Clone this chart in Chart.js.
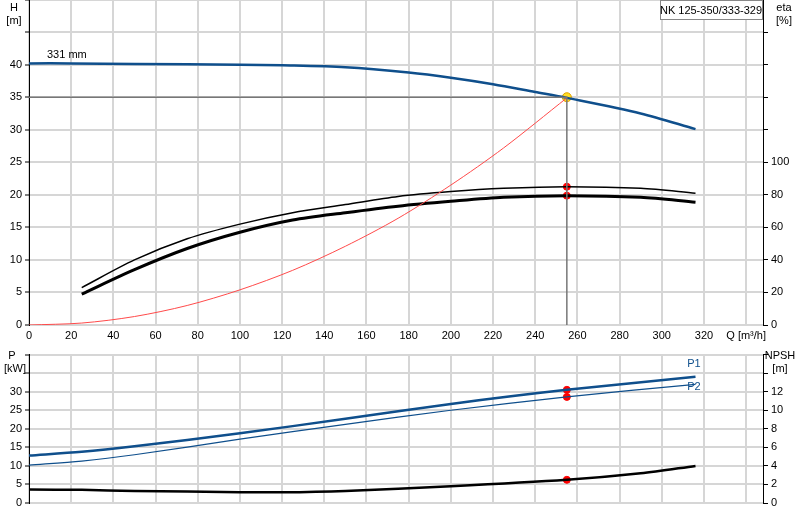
<!DOCTYPE html>
<html><head><meta charset="utf-8">
<script src="https://cdn.jsdelivr.net/npm/chart.js@4"></script>
<style>body{margin:0;background:#fff;width:800px;height:520px;overflow:hidden}
canvas{position:absolute;left:0}</style></head>
<body>
<div style="position:absolute;left:0;top:-10px;width:800px;height:355px"><canvas id="c1"></canvas></div>
<div style="position:absolute;left:0;top:345px;width:800px;height:175px"><canvas id="c2"></canvas></div>
<script>
const headQ=[0,20,50,100,120,150,180,200,220,240,255,290,316];
const headH=[40.2,40.2,40.1,40.0,39.9,39.6,38.8,38.0,37.0,35.8,34.9,32.5,30.1];
const etaQ=[25,50,75,100,125,150,175,200,225,255,290,316];
const etaUpper=[23,40,53,62,69,74,79,82,84,85,84,81];
const etaLower=[19,34,47,57,64.5,69,73,76,78.5,79.5,78.5,75.5];
const sysQ=[0,25,50,75,100,125,150,175,200,225,255];
const sysH=[0,0.3,1.3,3.0,5.4,8.4,12.1,16.4,21.5,27.2,34.9];
const dutyQ=255, dutyH=35, dutyEtaU=85, dutyEtaL=79.5;
const pQ=[0,25,50,100,150,200,255,316];
const p1=[12.8,13.8,15.3,18.8,22.7,26.7,30.5,34];
const p2=[10.2,11.3,13.0,17.2,21.2,25.0,28.6,32];
const npshQ=[0,25,50,100,120,150,200,255,290,316];
const npsh=[1.45,1.42,1.3,1.17,1.15,1.3,1.8,2.5,3.2,4.0];
const dutyP1=30.5, dutyP2=28.6, dutyNpsh=2.5;
const xy=(a,b)=>a.map((v,i)=>({x:v,y:b[i]}));
Chart.defaults.font.family='"Liberation Sans", Arial, sans-serif';
Chart.defaults.font.size=11;
Chart.defaults.color='#000';
const BLUE='#0f4f8c';
const gridX={color:'#d6d6d6',lineWidth:2,drawTicks:false};
function xScale(show){return {type:'linear',min:0,max:348,
 afterBuildTicks:s=>{s.ticks=[];for(let v=0;v<=340;v+=20)s.ticks.push({value:v});},
 afterFit:s=>{s.height=show?20:17},
 grid:gridX,border:{display:false},
 ticks:{display:show,padding:4,maxRotation:0,autoSkip:false,callback:v=>v===340?'Q [m³/h]':v}};}
function leftY(max,lab){return {type:'linear',position:'left',min:0,max:max,
 afterBuildTicks:s=>{s.ticks=[];for(let v=0;v<=max;v+=5)s.ticks.push({value:v});},
 afterFit:s=>{s.width=29},
 grid:{color:'#d6d6d6',lineWidth:2,tickLength:4,tickColor:'#000',tickWidth:1},
 border:{display:true,color:'#000',width:1},
 ticks:{padding:3,callback:v=>v<=lab?v:''}};}
function rightY(max,step,lab){return {type:'linear',position:'right',min:0,max:max,
 afterBuildTicks:s=>{s.ticks=[];for(let v=0;v<=max;v+=step)s.ticks.push({value:v});},
 afterFit:s=>{s.width=37},
 grid:{drawOnChartArea:false,tickLength:5,tickColor:'#000'},
 border:{display:true,color:'#000',width:1},
 ticks:{padding:3,callback:v=>v<=lab?v:''}};}
const txt=(items,box)=>({id:'txt',afterDraw(c){const x=c.ctx;x.save();x.font='11px "Liberation Sans", Arial';x.fillStyle='#000';
 if(box){x.fillStyle='#fff';x.fillRect(box[0],box[1],box[2],box[3]);x.strokeStyle='#888';x.lineWidth=1;x.strokeRect(box[0]+.5,box[1]+.5,box[2],box[3]);}
 items.forEach(t=>{x.fillStyle=t[3]||'#000';x.textAlign=t[4]||'center';x.fillText(t[0],t[1],t[2]);});x.restore();}});
const base={responsive:true,maintainAspectRatio:false,animation:false,
 plugins:{legend:{display:false},tooltip:{enabled:false}},layout:{padding:0},
 elements:{point:{radius:0},line:{tension:0.3}}};
new Chart(document.getElementById('c1'),{type:'line',data:{datasets:[
 {data:[{x:0,y:dutyH},{x:dutyQ,y:dutyH},{x:dutyQ,y:0}],borderColor:'#777',borderWidth:1.5,tension:0,yAxisID:'y'},
 {data:xy(sysQ,sysH),borderColor:'#ff4a4a',borderWidth:1,yAxisID:'y'},
 {data:xy(headQ,headH),borderColor:BLUE,borderWidth:2.5,yAxisID:'y'},
 {data:xy(etaQ,etaUpper),borderColor:'#000',borderWidth:1.5,yAxisID:'y2'},
 {data:xy(etaQ,etaLower),borderColor:'#000',borderWidth:3,yAxisID:'y2'},
 {data:[{x:dutyQ,y:dutyEtaU},{x:dutyQ,y:dutyEtaL}],showLine:false,pointRadius:3.5,pointBackgroundColor:'#f00',pointBorderColor:'#f00',yAxisID:'y2'},
 {data:[{x:dutyQ,y:dutyH}],showLine:false,pointRadius:4.5,pointBackgroundColor:'#ffdd22',pointBorderColor:'#e0a000',yAxisID:'y'}
]},options:{...base,scales:{x:xScale(true),y:leftY(50,40),y2:rightY(200,20,100)}},
plugins:[txt([['H',14,21],['[m]',14,34],['eta',784,21],['[%]',784,34],['331 mm',47,68,'#000','left'],['NK 125-350/333-329',711,24]],[660,10,102,19])]});
new Chart(document.getElementById('c2'),{type:'line',data:{datasets:[
 {data:xy(pQ,p1),borderColor:BLUE,borderWidth:2.5,yAxisID:'y'},
 {data:xy(pQ,p2),borderColor:BLUE,borderWidth:1.2,yAxisID:'y'},
 {data:xy(npshQ,npsh),borderColor:'#000',borderWidth:2.5,yAxisID:'y2'},
 {data:[{x:dutyQ,y:dutyP1},{x:dutyQ,y:dutyP2}],showLine:false,pointRadius:3.5,pointBackgroundColor:'#f00',pointBorderColor:'#f00',yAxisID:'y'},
 {data:[{x:dutyQ,y:dutyNpsh}],showLine:false,pointRadius:3.5,pointBackgroundColor:'#f00',pointBorderColor:'#f00',yAxisID:'y2'}
]},options:{...base,scales:{x:xScale(false),y:leftY(40,30),y2:rightY(16,2,12)}},
plugins:[txt([['P',12,14],['[kW]',15,27],['NPSH',780,14],['[m]',780,27],['P1',694,22,BLUE],['P2',694,45,BLUE]])]});
</script></body></html>
